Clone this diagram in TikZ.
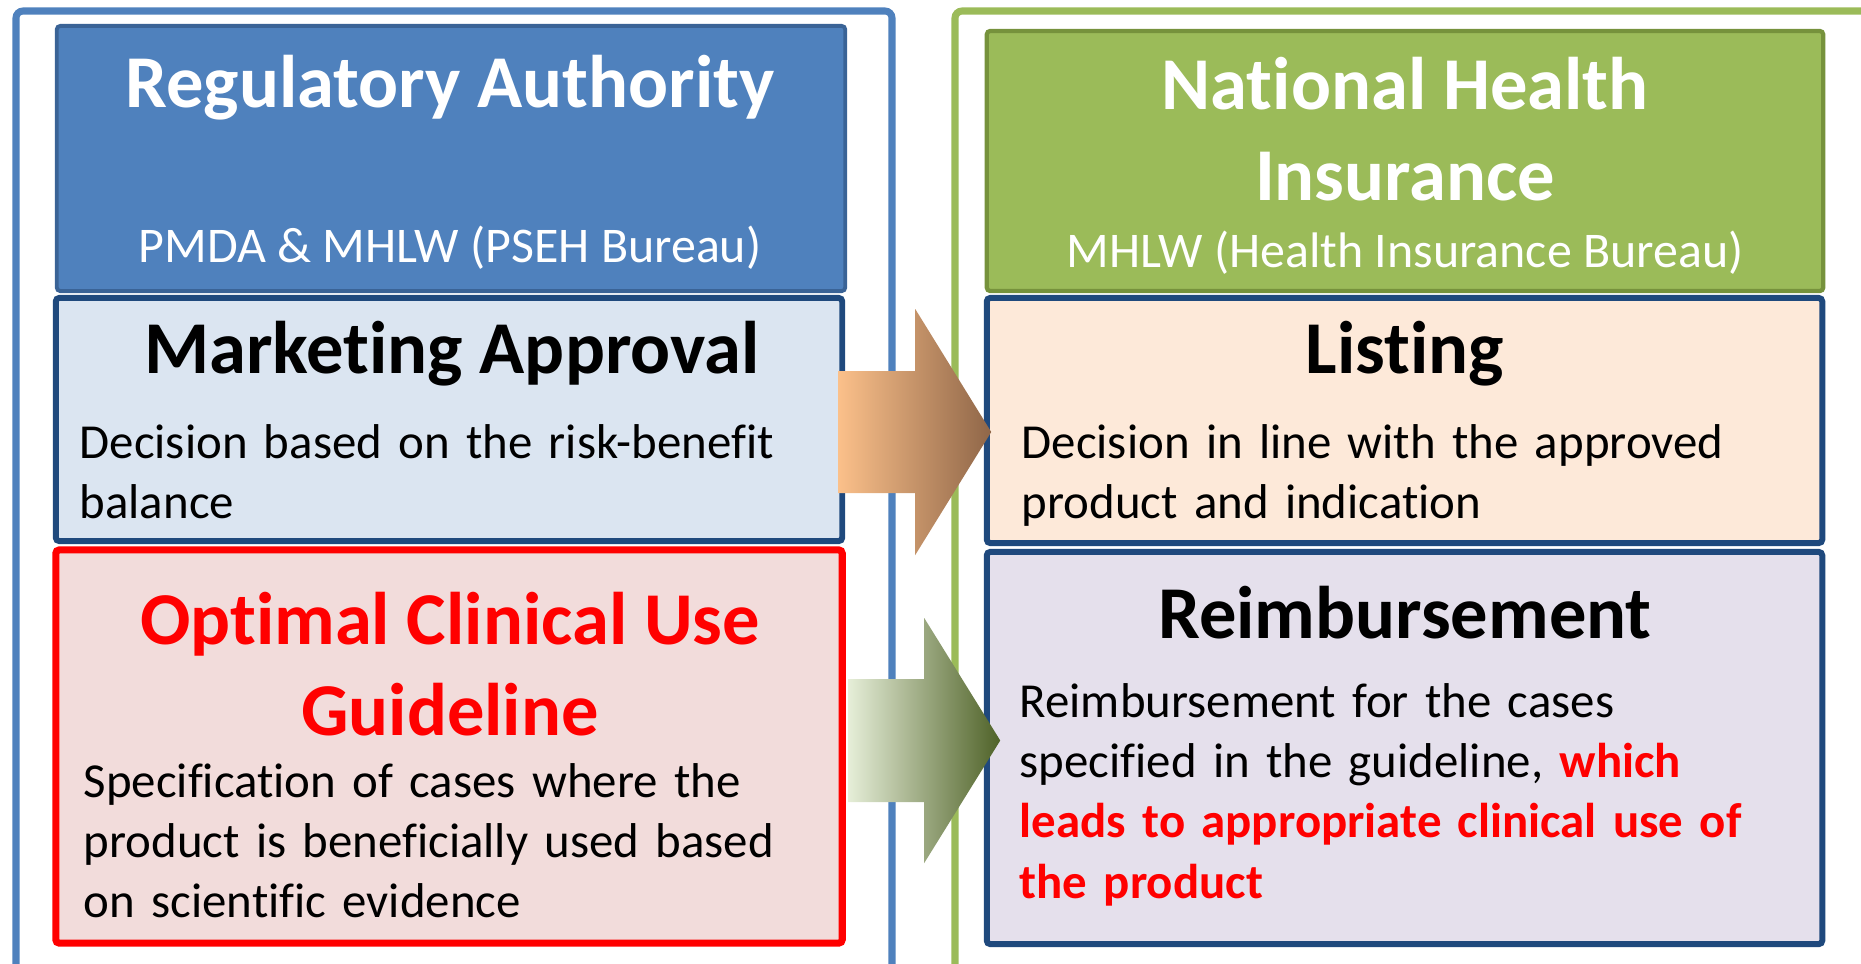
\documentclass[tikz,border=0pt]{standalone}
\usepackage{fontspec}
\setmainfont{Carlito}[Ligatures=NoCommon]
\usepackage{tikz}
\usetikzlibrary{positioning, calc}

\definecolor{frameblue}{HTML}{4F81BD}
\definecolor{framegreen}{HTML}{9BBB59}
\definecolor{hdrblueline}{HTML}{3A6396}
\definecolor{hdrgreenline}{HTML}{76923C}
\definecolor{navy}{HTML}{1F497D}
\definecolor{mktfill}{HTML}{DBE5F1}
\definecolor{listfill}{HTML}{FDE9D9}
\definecolor{guidefill}{HTML}{F2DCDB}
\definecolor{reimbfill}{HTML}{E5E0EC}
\definecolor{orgL}{HTML}{FBC08A}
\definecolor{orgR}{HTML}{8F6648}
\definecolor{grnL}{HTML}{E6EED8}
\definecolor{grnM}{HTML}{7A9A3C}
\definecolor{grnR}{HTML}{4F6228}

\tikzset{
  box/.style={rectangle, inner sep=0pt, outer sep=0pt, rounded corners=1pt},
  titletext/.style={anchor=base, inner sep=0pt, align=center,
    font=\fontsize{21.2}{25.6}\selectfont\bfseries},
  subtext/.style={anchor=base, inner sep=0pt, text=white,
    font=\fontsize{14.2}{16}\selectfont},
  bodytext/.style={anchor=base west, inner sep=0pt, text width=7.6cm, align=left,
    font=\fontsize{13.9}{17.2}\selectfont},
}

\begin{document}
\begin{tikzpicture}[x=0.01cm, y=-0.01cm]
    \useasboundingbox (0,0) rectangle (1861,963);
    \clip (0,0) rectangle (1861,963);

    % Outer frames (run off the page)
    \draw[frameblue, line width=2pt, rounded corners=2pt] (16,11) rectangle (892,1010);
    \draw[framegreen, line width=2pt, rounded corners=2pt] (955,11) rectangle (1910,1010);

    % Left column
    \node[box, draw=hdrblueline, fill=frameblue, line width=1.1pt,
          minimum width=7.88cm, minimum height=2.65cm] (hdrL) at (451,158.5) {};
    \node[box, draw=navy, fill=mktfill, line width=1.7pt,
          minimum width=7.86cm, minimum height=2.43cm] (mkt) at (449,419.5) {};
    \node[box, draw=red, fill=guidefill, line width=2pt,
          minimum width=7.86cm, minimum height=3.93cm] (guide) at (449,746.5) {};

    % Right column
    \node[box, draw=hdrgreenline, fill=framegreen, line width=1.2pt,
          minimum width=8.36cm, minimum height=2.60cm] (hdrR) at (1405,161) {};
    \node[box, draw=navy, fill=listfill, line width=1.7pt,
          minimum width=8.35cm, minimum height=2.45cm] (list) at (1404.5,420.5) {};
    \node[box, draw=navy, fill=reimbfill, line width=1.7pt,
          minimum width=8.35cm, minimum height=3.92cm] (reimb) at (1404.5,748) {};

    % Header texts (two-line titles sit on their last baseline)
    \node[titletext, text=white] (hdrLtitle) at (450,107) {Regulatory Authority};
    \node[subtext] (hdrLsub) at (450,262) {PMDA \& MHLW (PSEH Bureau)};
    \node[titletext, text=white] (hdrRtitle) at (1405,200) {National Health\\Insurance};
    \node[subtext] (hdrRsub) at (1405,267) {MHLW (Health Insurance Bureau)};

    % Box texts
    \node[titletext] (mkttitle) at (452,373) {Marketing Approval};
    \node[bodytext] (mktbody) at (79,458) {Decision based on the risk-benefit\\balance};
    \node[titletext] (listtitle) at (1405,373) {Listing};
    \node[bodytext, text width=7.9cm] (listbody) at (1021,458) {Decision in line with the approved\\product and indication};
    \node[titletext, text=red] (guidetitle) at (450,735) {Optimal Clinical Use\\Guideline};
    \node[bodytext] (guidebody) at (83,797) {Specification of cases where the\\product is beneficially used based\\on scientific evidence};
    \node[titletext] (reimbtitle) at (1405,638) {Reimbursement};
    \node[bodytext, text width=7.9cm] (reimbbody) at (1019,717) {Reimbursement for the cases\\specified in the guideline, {\color{red}\bfseries which}\\{\color{red}\bfseries leads to appropriate clinical use of}\\{\color{red}\bfseries the product}};

    % Block arrows between the columns
    \coordinate (oa) at ($(mkt.east)+(-4,12.5)$);
    \shade[left color=orgL, right color=orgR]
      (oa) ++(0,-61) -- ++(77,0) -- ++(0,-62) -- ++(76,123) -- ++(-76,123)
      -- ++(0,-62) -- ++(-77,0) -- cycle;
    \coordinate (ga) at ($(guide.east)+(6,-6)$);
    \shade[left color=grnL, middle color=grnM, right color=grnR]
      (ga) ++(0,-61.5) -- ++(76,0) -- ++(0,-61) -- ++(76,122.5) -- ++(-76,122.5)
      -- ++(0,-61) -- ++(-76,0) -- cycle;
\end{tikzpicture}
\end{document}
